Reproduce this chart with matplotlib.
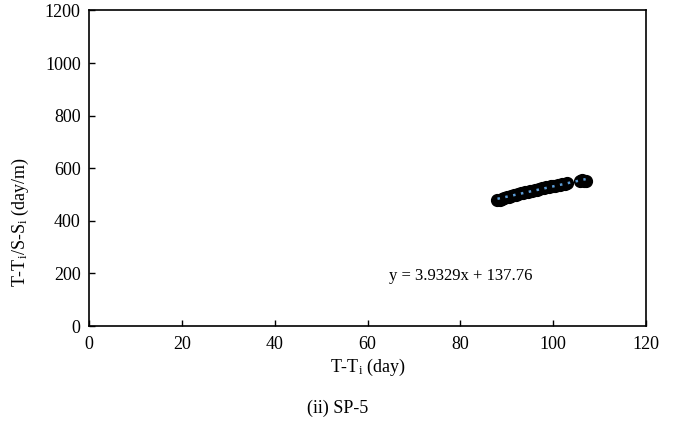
import numpy as np
import matplotlib
matplotlib.use("Agg")
import matplotlib.pyplot as plt

plt.rcParams['font.family'] = ['Liberation Serif', 'DejaVu Serif']
plt.rcParams['mathtext.fontset'] = 'custom'
plt.rcParams['mathtext.rm'] = 'Liberation Serif'
plt.rcParams['mathtext.it'] = 'Liberation Serif:italic'

# data
t_days = [88.0, 88.5, 89.0, 89.5, 90.0, 90.5, 91.0, 91.5, 92.0, 92.5,
          93.0, 93.5, 94.0, 94.5, 95.0, 95.5, 96.0, 96.5, 97.0, 97.5,
          98.0, 98.5, 99.0, 99.5, 100.0, 100.5, 101.0, 101.5, 102.0, 102.5,
          103.0, 105.8, 106.2, 106.6, 107.0]
ratio = [478, 481, 484, 487, 490, 492, 495, 497, 500, 502,
         504, 506, 509, 511, 513, 515, 517, 519, 521, 523,
         525, 527, 529, 531, 532, 534, 536, 537, 539, 540,
         542, 553, 555, 552, 550]
slope = 3.9329
intercept = 137.76
x_ticks = [0, 20, 40, 60, 80, 100, 120]
y_ticks = [0, 200, 400, 600, 800, 1000, 1200]

fig = plt.figure(figsize=(6.77, 4.23), dpi=100)
ax = fig.add_axes([0.1315, 0.2293, 0.8227, 0.7459])

ax.plot(t_days, ratio, 'o', ms=8.5, mfc='black', mec='black', mew=1.0, zorder=2)

# linear trendline
xt = np.array([min(t_days), max(t_days)])
ax.plot(xt, slope * xt + intercept, color='#5b9bd5', lw=1.8, ls=(0, (1, 2.2)), zorder=3)

ax.text(64.6, 190, 'y = 3.9329x + 137.76', fontsize=12, va='center', ha='left')

ax.set_xlim(0, 120)
ax.set_ylim(0, 1200)
ax.set_xticks(x_ticks)
ax.set_yticks(y_ticks)
ax.tick_params(direction='in', length=4, width=1, labelsize=13, pad=6)
ax.tick_params(axis='x', pad=7)
for s in ax.spines.values():
    s.set_linewidth(1.2)

ax.set_xlabel('T-T$_\\mathrm{i}$ (day)', fontsize=13, labelpad=3)
fig.text(20 / 677, 1 - 222 / 423, 'T-T$_\\mathrm{i}$/S-S$_\\mathrm{i}$ (day/m)',
         rotation=90, fontsize=13, ha='center', va='center')
fig.text(338 / 677, 1 - 408 / 423, '(ii) SP-5', fontsize=13, ha='center', va='center')

fig.savefig('out.png', dpi=100)
